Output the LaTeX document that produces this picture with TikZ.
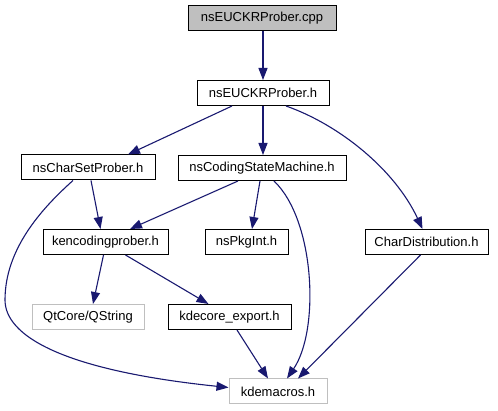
\documentclass[tikz,border=0pt]{standalone}
\usepackage{fontspec}
\setmainfont{Liberation Sans}
\usetikzlibrary{arrows.meta}
\definecolor{edgeblue}{HTML}{191970}
\definecolor{boxgray}{HTML}{BFBFBF}
\tikzset{
  filebox/.style={draw=black, line width=1pt, minimum height=25pt, inner sep=0pt,
    font=\fontsize{13}{15}\selectfont, fill=white},
  extbox/.style={filebox, draw=boxgray},
  rootbox/.style={filebox, fill=boxgray},
  dep/.style={draw=edgeblue, line width=1.1pt, -{Triangle[length=12pt,width=9pt]}}
}
\begin{document}
\begin{tikzpicture}[x=1pt,y=-1pt]
\useasboundingbox (0,0) rectangle (498,411);
\node[rootbox, minimum width=148pt] (cpp) at (262,18.5) {nsEUCKRProber.cpp};
\node[filebox, minimum width=132pt] (h) at (263,93) {nsEUCKRProber.h};
\node[filebox, minimum width=134pt] (csp) at (88,167.5) {nsCharSetProber.h};
\node[filebox, minimum width=168pt] (csm) at (262,168) {nsCodingStateMachine.h};
\node[filebox, minimum width=123pt] (cd) at (426.5,242) {CharDistribution.h};
\node[filebox, minimum width=125pt] (kp) at (105.5,242) {kencodingprober.h};
\node[filebox, minimum width=83pt] (pk) at (246.5,242) {nsPkgInt.h};
\node[extbox, minimum width=112pt] (qs) at (88,317) {QtCore/QString};
\node[filebox, minimum width=123pt] (ke) at (229.5,317) {kdecore\_export.h};
\node[extbox, minimum width=98pt] (km) at (278,391.5) {kdemacros.h};

\draw[dep] ([xshift=1pt]cpp.south) -- (h.north);
\draw[dep] ([xshift=-31pt]h.south) -- ([xshift=40pt]csp.north);
\draw[dep] (h.south) -- ([xshift=1pt]csm.north);
\draw[dep] ([xshift=23pt]h.south) .. controls (340,125) and (395,170) .. ([xshift=-4pt]cd.north);
\draw[dep] ([xshift=3pt]csp.south) -- ([xshift=-5pt]kp.north);
\draw[dep] ([xshift=-15pt]csp.south) .. controls (40,210) and (5,250) .. (5,300)
  .. controls (5,335) and (60,370) .. ([yshift=4pt]km.west);
\draw[dep] ([xshift=-24pt]csm.south) -- ([xshift=24.5pt]kp.north);
\draw[dep] ([xshift=-2pt]csm.south) -- ([xshift=5.5pt]pk.north);
\draw[dep] ([xshift=12pt]csm.south) .. controls (315,220) and (320,330) .. ([xshift=9pt]km.north);
\draw[dep] ([xshift=-2pt]kp.south) -- ([xshift=5pt]qs.north);
\draw[dep] ([xshift=20pt]kp.south) -- ([xshift=-21pt]ke.north);
\draw[dep] ([xshift=7.5pt]ke.south) -- ([xshift=-10pt]km.north);
\draw[dep] ([xshift=-6pt]cd.south) -- ([xshift=20pt]km.north);
\end{tikzpicture}
\end{document}
